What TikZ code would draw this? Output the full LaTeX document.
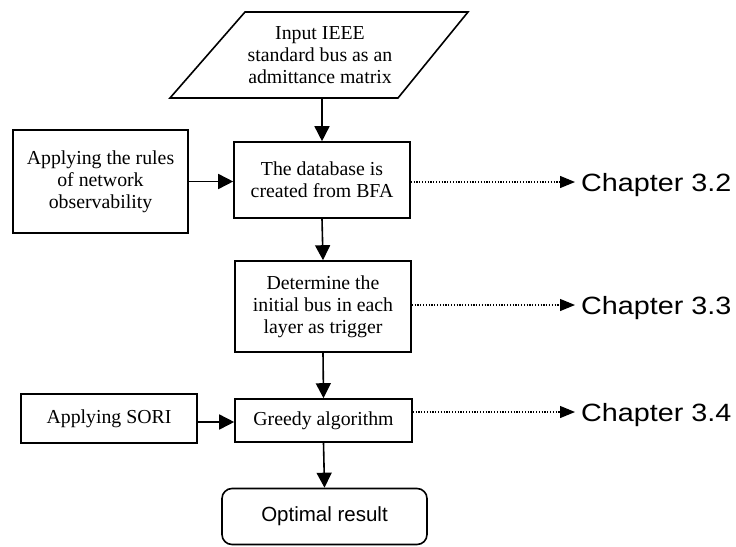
\documentclass[tikz,border=0pt]{standalone}
\usepackage{fontspec}
\usepackage{graphicx}
\setmainfont{Liberation Serif}
\newfontfamily\arialfont{Liberation Sans}
\usetikzlibrary{arrows.meta}
\begin{document}
\begin{tikzpicture}[x=1pt,y=-1pt,
  every node/.style={inner sep=0pt, align=center},
  box/.style={draw, line width=1.6pt, font=\fontsize{19.8}{22}\selectfont},
  flow/.style={line width=1.6pt, -{Triangle[length=15pt,width=15pt]}},
  ref/.style={line width=1.2pt, dash pattern=on 1.1pt off 1.7pt, -{Triangle[length=15pt,width=12pt]}},
  chap/.style={anchor=base west, font=\arialfont\fontsize{25}{28}\selectfont},
]
\useasboundingbox (0,0) rectangle (736,546);

% input data (parallelogram)
\draw[line width=1.6pt] (245,12) -- (468,12) -- (398,98) -- (170,98) -- cycle;
\node[font=\fontsize{19.8}{22}\selectfont] (input) at (320,55)
  {Input IEEE\\standard bus as an\\admittance matrix};
\coordinate (inbot) at (322,98);

% process boxes
\node[box, minimum width=176pt, minimum height=76pt] (db) at (322,180)
  {The database is\\created from BFA};
\node[box, minimum width=175pt, minimum height=103pt] (rules) at (100.5,181.5)
  {Applying the rules\\of network\\observability};
\node[box, minimum width=176pt, minimum height=91pt] (det) at (323,306.5)
  {Determine the\\initial bus in each\\layer as trigger};
\node[box, minimum width=177pt, minimum height=43pt] (greedy) at (323.5,420.5)
  {Greedy algorithm};
\node[box, minimum width=176pt, minimum height=49pt] (sori) at (109,418.5)
  {Applying SORI};
\node[draw, line width=1.6pt, rounded corners=10pt, minimum width=205pt, minimum height=56pt,
      font=\arialfont\fontsize{20.5}{24}\selectfont] (opt) at (324.5,516.5)
  {Optimal result};

% chapter references
\node[chap] (c2) at (581,191) {\scalebox{1.15}[1]{Chapter 3.2}};
\node[chap] (c3) at (581,314) {\scalebox{1.15}[1]{Chapter 3.3}};
\node[chap] (c4) at (581,421) {\scalebox{1.15}[1]{Chapter 3.4}};

% main flow
\draw[flow] (inbot) -- (db.north);
\draw[flow] (db.south) -- (det.north);
\draw[flow] (det.south) -- (greedy.north);
\draw[flow] (greedy.south) -- (opt.north);

% side inputs
\draw[flow] (rules) -- (rules -| db.west);
\coordinate (s1) at ([yshift=-3.5pt]sori.east);
\draw[flow] (s1) -- (s1 -| greedy.west);

% dotted links to chapters
\coordinate (d2) at ([yshift=-2pt]db.east);
\coordinate (d3) at ([yshift=1.5pt]det.east);
\coordinate (d4) at ([yshift=8.5pt]greedy.east);
\draw[ref] (d2) -- ([xshift=-6pt]d2 -| c2.west);
\draw[ref] (d3) -- ([xshift=-6pt]d3 -| c3.west);
\draw[ref] (d4) -- ([xshift=-6pt]d4 -| c4.west);
\end{tikzpicture}
\end{document}
